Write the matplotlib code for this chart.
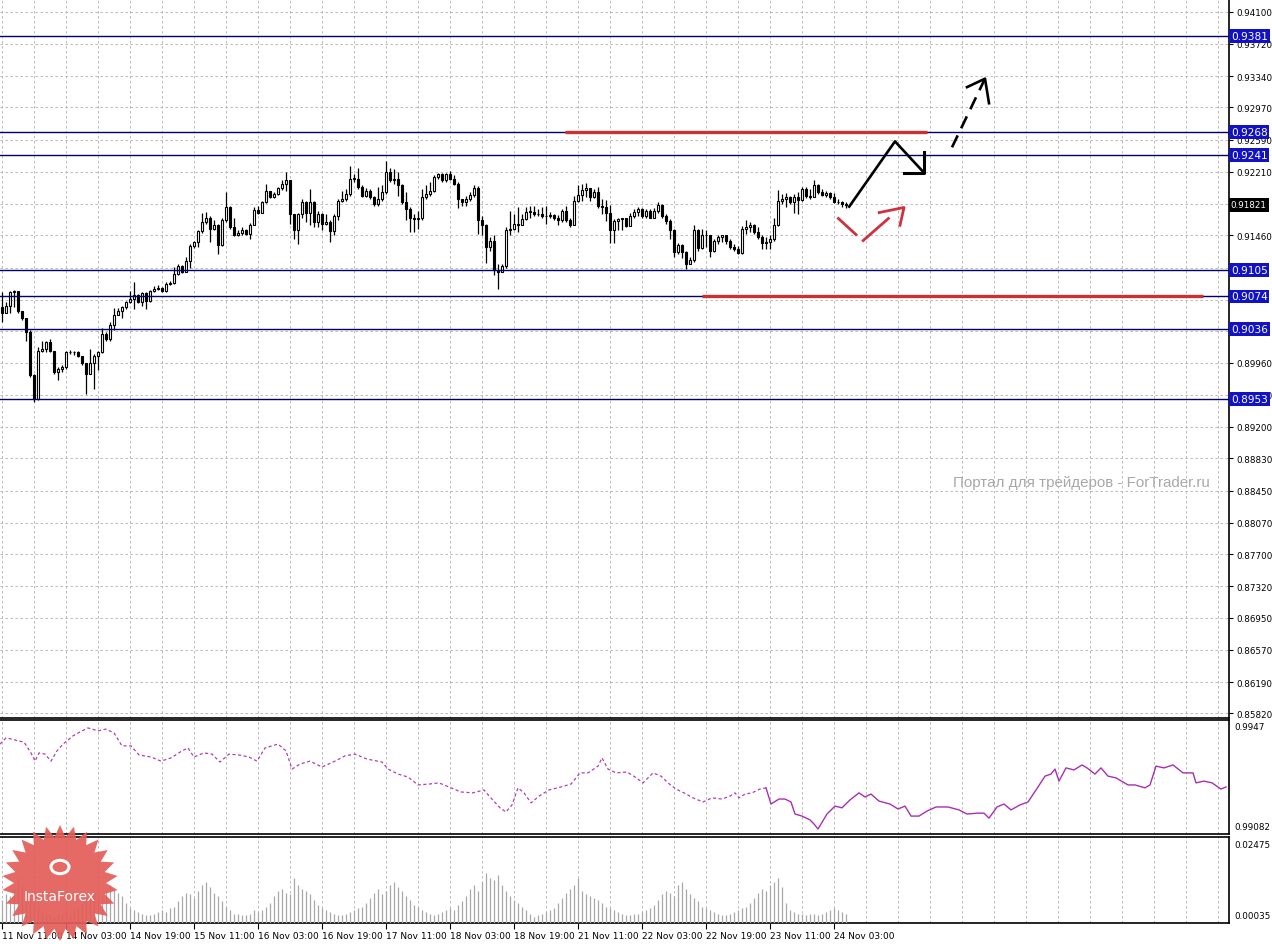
import numpy as np
import matplotlib
matplotlib.use("Agg")
import matplotlib.pyplot as plt
from matplotlib.patches import Polygon, Circle

# ---- H1 candles (bar 0 = 11 Nov 11:00), open = previous close ----
first_open = 0.9061
closes = [
    0.9054, 0.9063, 0.9079, 0.9080, 0.9057, 0.9048, 0.9032, 0.8981, 0.8953, 0.9010,
    0.9012, 0.9020, 0.9010, 0.8985, 0.8989, 0.8991, 0.9008, 0.9009, 0.9008, 0.9004,
    0.8995, 0.8983, 0.8995, 0.9004, 0.9008, 0.9030, 0.9024, 0.9040, 0.9052, 0.9057,
    0.9061, 0.9068, 0.9071, 0.9076, 0.9067, 0.9078, 0.9069, 0.9080, 0.9083, 0.9084,
    0.9080, 0.9089, 0.9090, 0.9101, 0.9110, 0.9103, 0.9116, 0.9133, 0.9138, 0.9151,
    0.9162, 0.9166, 0.9154, 0.9158, 0.9135, 0.9164, 0.9180, 0.9156, 0.9146, 0.9149,
    0.9152, 0.9148, 0.9158, 0.9176, 0.9173, 0.9185, 0.9198, 0.9191, 0.9195, 0.9202,
    0.9207, 0.9211, 0.9171, 0.9152, 0.9171, 0.9185, 0.9173, 0.9185, 0.9162, 0.9171,
    0.9160, 0.9162, 0.9151, 0.9169, 0.9187, 0.9189, 0.9195, 0.9213, 0.9213, 0.9203,
    0.9193, 0.9199, 0.9191, 0.9183, 0.9189, 0.9197, 0.9221, 0.9211, 0.9213, 0.9205,
    0.9185, 0.9177, 0.9167, 0.9165, 0.9167, 0.9191, 0.9195, 0.9199, 0.9215, 0.9219,
    0.9211, 0.9219, 0.9213, 0.9207, 0.9189, 0.9186, 0.9189, 0.9194, 0.9202, 0.9164,
    0.9158, 0.9132, 0.9140, 0.9105, 0.9103, 0.9110, 0.9152, 0.9154, 0.9160, 0.9158,
    0.9165, 0.9174, 0.9174, 0.9171, 0.9171, 0.9169, 0.9169, 0.9170, 0.9166, 0.9164,
    0.9175, 0.9164, 0.9158, 0.9187, 0.9194, 0.9200, 0.9202, 0.9191, 0.9197, 0.9181,
    0.9180, 0.9173, 0.9153, 0.9163, 0.9165, 0.9166, 0.9157, 0.9169, 0.9174, 0.9177,
    0.9169, 0.9175, 0.9167, 0.9175, 0.9182, 0.9169, 0.9163, 0.9152, 0.9126, 0.9135,
    0.9126, 0.9112, 0.9117, 0.9152, 0.9131, 0.9146, 0.9146, 0.9128, 0.9139, 0.9144,
    0.9146, 0.9139, 0.9132, 0.9130, 0.9125, 0.9154, 0.9156, 0.9158, 0.9150, 0.9144,
    0.9137, 0.9138, 0.9142, 0.9158, 0.9187, 0.9189, 0.9191, 0.9185, 0.9191, 0.9188,
    0.9201, 0.9193, 0.9191, 0.9205, 0.9197, 0.9194, 0.9196, 0.9191, 0.9185, 0.9186,
    0.9183, 0.9182,
]
highs = [
    0.9079, 0.9067, 0.9081, 0.9082, 0.9081, 0.9057, 0.9048, 0.9034, 0.8982, 0.9014,
    0.9022, 0.9022, 0.9024, 0.9010, 0.8991, 0.8993, 0.9010, 0.9011, 0.9010, 0.9010,
    0.9004, 0.8995, 0.9012, 0.9006, 0.9010, 0.9037, 0.9032, 0.9044, 0.9060, 0.9060,
    0.9063, 0.9069, 0.9080, 0.9091, 0.9077, 0.9079, 0.9079, 0.9082, 0.9086, 0.9087,
    0.9085, 0.9091, 0.9092, 0.9109, 0.9112, 0.9111, 0.9120, 0.9136, 0.9140, 0.9153,
    0.9173, 0.9174, 0.9169, 0.9164, 0.9159, 0.9166, 0.9197, 0.9181, 0.9167, 0.9152,
    0.9156, 0.9154, 0.9161, 0.9179, 0.9181, 0.9187, 0.9207, 0.9199, 0.9197, 0.9203,
    0.9211, 0.9221, 0.9201, 0.9171, 0.9173, 0.9189, 0.9187, 0.9201, 0.9187, 0.9175,
    0.9173, 0.9171, 0.9164, 0.9171, 0.9189, 0.9199, 0.9201, 0.9228, 0.9219, 0.9225,
    0.9205, 0.9202, 0.9201, 0.9193, 0.9203, 0.9205, 0.9234, 0.9226, 0.9224, 0.9221,
    0.9207, 0.9197, 0.9179, 0.9171, 0.9175, 0.9201, 0.9205, 0.9209, 0.9217, 0.9220,
    0.9220, 0.9220, 0.9222, 0.9217, 0.9209, 0.9189, 0.9193, 0.9197, 0.9205, 0.9204,
    0.9169, 0.9160, 0.9144, 0.9146, 0.9112, 0.9112, 0.9156, 0.9175, 0.9171, 0.9179,
    0.9171, 0.9179, 0.9181, 0.9181, 0.9177, 0.9179, 0.9181, 0.9174, 0.9171, 0.9170,
    0.9177, 0.9181, 0.9167, 0.9193, 0.9205, 0.9207, 0.9208, 0.9201, 0.9201, 0.9203,
    0.9189, 0.9188, 0.9182, 0.9165, 0.9167, 0.9167, 0.9167, 0.9173, 0.9177, 0.9179,
    0.9178, 0.9177, 0.9177, 0.9178, 0.9185, 0.9183, 0.9171, 0.9165, 0.9154, 0.9137,
    0.9136, 0.9128, 0.9121, 0.9158, 0.9154, 0.9154, 0.9152, 0.9147, 0.9142, 0.9146,
    0.9147, 0.9144, 0.9142, 0.9136, 0.9134, 0.9157, 0.9164, 0.9162, 0.9160, 0.9156,
    0.9146, 0.9144, 0.9147, 0.9167, 0.9200, 0.9195, 0.9196, 0.9193, 0.9195, 0.9197,
    0.9203, 0.9203, 0.9201, 0.9211, 0.9207, 0.9201, 0.9198, 0.9197, 0.9196, 0.9189,
    0.9187, 0.9185,
]
lows = [
    0.9044, 0.9054, 0.9055, 0.9061, 0.9055, 0.9046, 0.9022, 0.8979, 0.8950, 0.8952,
    0.9008, 0.9009, 0.9009, 0.8983, 0.8975, 0.8985, 0.8989, 0.9006, 0.9005, 0.9002,
    0.8993, 0.8959, 0.8982, 0.8965, 0.8987, 0.9007, 0.9022, 0.9022, 0.9035, 0.9052,
    0.9048, 0.9059, 0.9066, 0.9059, 0.9066, 0.9063, 0.9059, 0.9068, 0.9079, 0.9082,
    0.9079, 0.9079, 0.9088, 0.9089, 0.9099, 0.9102, 0.9103, 0.9107, 0.9131, 0.9132,
    0.9149, 0.9160, 0.9138, 0.9152, 0.9124, 0.9133, 0.9162, 0.9154, 0.9145, 0.9145,
    0.9147, 0.9147, 0.9142, 0.9158, 0.9171, 0.9172, 0.9184, 0.9190, 0.9190, 0.9194,
    0.9200, 0.9199, 0.9160, 0.9142, 0.9136, 0.9167, 0.9162, 0.9158, 0.9156, 0.9156,
    0.9152, 0.9158, 0.9138, 0.9146, 0.9164, 0.9185, 0.9187, 0.9193, 0.9209, 0.9201,
    0.9191, 0.9191, 0.9189, 0.9181, 0.9181, 0.9187, 0.9195, 0.9209, 0.9207, 0.9193,
    0.9183, 0.9164, 0.9150, 0.9150, 0.9154, 0.9164, 0.9189, 0.9193, 0.9197, 0.9213,
    0.9209, 0.9209, 0.9212, 0.9205, 0.9178, 0.9181, 0.9181, 0.9187, 0.9191, 0.9148,
    0.9146, 0.9114, 0.9128, 0.9099, 0.9083, 0.9103, 0.9108, 0.9146, 0.9152, 0.9150,
    0.9158, 0.9164, 0.9167, 0.9169, 0.9169, 0.9167, 0.9160, 0.9167, 0.9164, 0.9158,
    0.9162, 0.9162, 0.9156, 0.9158, 0.9185, 0.9187, 0.9191, 0.9187, 0.9190, 0.9178,
    0.9171, 0.9163, 0.9137, 0.9137, 0.9152, 0.9152, 0.9156, 0.9157, 0.9167, 0.9169,
    0.9166, 0.9166, 0.9166, 0.9166, 0.9173, 0.9167, 0.9160, 0.9142, 0.9120, 0.9124,
    0.9119, 0.9106, 0.9112, 0.9115, 0.9128, 0.9130, 0.9132, 0.9120, 0.9127, 0.9136,
    0.9138, 0.9136, 0.9130, 0.9128, 0.9124, 0.9124, 0.9148, 0.9150, 0.9148, 0.9142,
    0.9130, 0.9130, 0.9130, 0.9140, 0.9157, 0.9183, 0.9179, 0.9183, 0.9173, 0.9171,
    0.9187, 0.9190, 0.9189, 0.9196, 0.9195, 0.9192, 0.9191, 0.9189, 0.9184, 0.9183,
    0.9180, 0.9178,
]

# ---- lower histogram panel ----
volumes = [
    0.0070, 0.0085, 0.0080, 0.0100, 0.0130, 0.0110, 0.0095, 0.0075, 0.0060, 0.0050, 0.0035, 0.0030, 0.0025,
    0.0020, 0.0030, 0.0028, 0.0035, 0.0030, 0.0040, 0.0045, 0.0060, 0.0075, 0.0080, 0.0085, 0.0070,
    0.0080, 0.0095, 0.0110, 0.0100, 0.0090, 0.0080, 0.0060, 0.0045, 0.0040, 0.0035, 0.0030, 0.0025,
    0.0025, 0.0030, 0.0035, 0.0040, 0.0035, 0.0045, 0.0050, 0.0065, 0.0080, 0.0090, 0.0085, 0.0075,
    0.0095, 0.0110, 0.0120, 0.0105, 0.0090, 0.0080, 0.0065, 0.0050, 0.0040, 0.0030, 0.0030, 0.0025,
    0.0025, 0.0030, 0.0040, 0.0035, 0.0040, 0.0050, 0.0060, 0.0080, 0.0095, 0.0100, 0.0090, 0.0085,
    0.0130, 0.0110, 0.0100, 0.0095, 0.0085, 0.0070, 0.0055, 0.0045, 0.0040, 0.0035, 0.0030, 0.0025,
    0.0025, 0.0030, 0.0035, 0.0040, 0.0045, 0.0050, 0.0060, 0.0075, 0.0090, 0.0100, 0.0085, 0.0095,
    0.0110, 0.0120, 0.0105, 0.0095, 0.0080, 0.0070, 0.0055, 0.0050, 0.0040, 0.0035, 0.0030, 0.0025,
    0.0030, 0.0035, 0.0040, 0.0045, 0.0040, 0.0055, 0.0065, 0.0080, 0.0100, 0.0110, 0.0095, 0.0120,
    0.0145, 0.0130, 0.0125, 0.0140, 0.0110, 0.0095, 0.0080, 0.0070, 0.0060, 0.0050, 0.0040, 0.0030,
    0.0020, 0.0025, 0.0030, 0.0035, 0.0040, 0.0045, 0.0060, 0.0075, 0.0090, 0.0100, 0.0110, 0.0130,
    0.0095, 0.0085, 0.0080, 0.0075, 0.0070, 0.0060, 0.0050, 0.0045, 0.0040, 0.0035, 0.0030, 0.0025,
    0.0025, 0.0030, 0.0030, 0.0035, 0.0040, 0.0045, 0.0055, 0.0070, 0.0085, 0.0095, 0.0090, 0.0080,
    0.0110, 0.0120, 0.0100, 0.0085, 0.0075, 0.0065, 0.0050, 0.0045, 0.0040, 0.0035, 0.0030, 0.0025,
    0.0025, 0.0030, 0.0035, 0.0040, 0.0045, 0.0050, 0.0060, 0.0075, 0.0090, 0.0100, 0.0095, 0.0110,
    0.0120, 0.0130, 0.0105, 0.0060, 0.0040, 0.0035, 0.0030, 0.0028, 0.0025, 0.0030, 0.0028, 0.0025,
    0.0030, 0.0035, 0.0040, 0.0045, 0.0040, 0.0035, 0.0030,
]

# ---- middle indicator line (bar position, value) ----
ind_bars = [
    -0.5, 1, 2.5, 4, 5.5, 7.25, 8.25, 9.25, 10.75, 12.25, 13.75, 15.25, 17.75, 20, 21.5, 24, 26, 28,
    30, 32.25, 34.25, 37.25, 39.75, 42.25, 45, 46.5, 48, 50.5, 52.5, 54.5, 56.75, 59.25, 61.75, 63.75,
    65.75, 69, 71, 72.5, 74.5, 77, 80, 83.25, 85.75, 88.25, 91.25, 95, 96.5, 99, 101.5, 104, 106.75,
    109.25, 111.75, 114.75, 117.75, 120.5, 122, 124.5, 126, 127.5, 129, 130.5, 132.25, 134.25, 136.75,
    139.75, 142.25, 144.5, 146.5, 149, 150, 151.5, 153.5, 156.25, 158.25, 160.25, 162.75, 164.75,
    166.5, 168.5, 170.5, 172.75, 175.25, 177.5, 180, 182, 183.25, 184.25, 185.75, 187.5, 189.5, 191,
    192.25, 194.25, 195.75, 197.25, 198.25, 200, 202, 203, 204, 206.25, 208.25, 210, 212, 214.25,
    215.75, 217.25, 219.25, 222, 224, 225.75, 227.25, 229.25, 231.25, 233.5, 236.5, 239.25, 241.25,
    244, 245.5, 246.75, 248.75, 250.5, 252.25, 254.5, 256.5, 259, 260.75, 262.25, 263.25, 264.25,
    266, 268, 270, 271.25, 273.25, 274.75, 276.5, 278.5, 281.5, 283.25, 285.75, 287, 288.5, 290.5,
    292.75, 295.25, 297.75, 298.5, 300.5, 302.5, 304.75, 306,
]
ind_values = [
    0.99388, 0.99409, 0.99405, 0.99399, 0.99395, 0.99358, 0.99330, 0.99358, 0.99354, 0.99330, 0.99365,
    0.99388, 0.99416, 0.99433, 0.99443, 0.99433, 0.99439, 0.99426, 0.99382, 0.99382, 0.99351, 0.99344,
    0.99330, 0.99341, 0.99365, 0.99375, 0.99344, 0.99358, 0.99354, 0.99327, 0.99354, 0.99351, 0.99344,
    0.99330, 0.99375, 0.99388, 0.99365, 0.99303, 0.99320, 0.99330, 0.99310, 0.99330, 0.99348, 0.99354,
    0.99337, 0.99327, 0.99303, 0.99286, 0.99276, 0.99249, 0.99252, 0.99256, 0.99242, 0.99225, 0.99222,
    0.99232, 0.99208, 0.99171, 0.99157, 0.99181, 0.99239, 0.99222, 0.99188, 0.99211, 0.99232, 0.99242,
    0.99252, 0.99290, 0.99290, 0.99313, 0.99341, 0.99303, 0.99290, 0.99293, 0.99276, 0.99256, 0.99290,
    0.99279, 0.99256, 0.99235, 0.99222, 0.99205, 0.99191, 0.99205, 0.99201, 0.99211, 0.99222, 0.99205,
    0.99218, 0.99222, 0.99235, 0.99239, 0.99184, 0.99201, 0.99201, 0.99191, 0.99150, 0.99143, 0.99130,
    0.99116, 0.99099, 0.99150, 0.99177, 0.99171, 0.99198, 0.99222, 0.99208, 0.99218, 0.99194, 0.99184,
    0.99167, 0.99177, 0.99143, 0.99143, 0.99160, 0.99174, 0.99174, 0.99164, 0.99150, 0.99153, 0.99153,
    0.99136, 0.99174, 0.99184, 0.99164, 0.99181, 0.99191, 0.99242, 0.99279, 0.99286, 0.99303, 0.99262,
    0.99307, 0.99300, 0.99317, 0.99307, 0.99286, 0.99307, 0.99279, 0.99273, 0.99249, 0.99249, 0.99239,
    0.99249, 0.99313, 0.99307, 0.99317, 0.99290, 0.99290, 0.99256, 0.99262, 0.99256, 0.99235, 0.99242,
]
ind_dash_end = 191

# ---- axis labels and levels ----
price_ticks = [0.94100, 0.93720, 0.93340, 0.92970, 0.92590, 0.92210, 0.91830, 0.91460,
               0.91080, 0.90700, 0.90330, 0.89960, 0.89580, 0.89200, 0.88830, 0.88450,
               0.88070, 0.87700, 0.87320, 0.86950, 0.86570, 0.86190, 0.85820]
# scale labels fully covered by the level / bid boxes in the terminal
hidden_ticks = [0.91830, 0.91080, 0.90700, 0.90330]
time_labels = ["11 Nov 11:00", "14 Nov 03:00", "14 Nov 19:00", "15 Nov 11:00", "16 Nov 03:00",
               "16 Nov 19:00", "17 Nov 11:00", "18 Nov 03:00", "18 Nov 19:00", "21 Nov 11:00",
               "22 Nov 03:00", "22 Nov 19:00", "23 Nov 11:00", "24 Nov 03:00"]
levels = [0.9381, 0.9268, 0.9241, 0.9105, 0.9074, 0.9036, 0.8953]
level_labels = ["0.9381", "0.9268", "0.9241", "0.9105", "0.9074", "0.9036", "0.8953"]
bid = 0.91821
red_levels = [(0.9268, 140.75, 231.25), (0.9074, 175.0, 300.25)]

# drawn forecast arrows (bar, price)
black_path = [(211.8, 0.9180), (223.25, 0.9257), (230.5, 0.9220)]
black_head = [(225.5, 0.9220), (230.5, 0.9220), (230.5, 0.9244)]
dashed_path = [(237.5, 0.9250), (245.75, 0.9331)]
dashed_head = [(241.25, 0.9321), (245.75, 0.9331), (246.75, 0.9302)]
red_path1 = [(209.1, 0.9166), (213.5, 0.9147)]
red_path2 = [(215.3, 0.9140), (221.6, 0.9166)]
red_head = [(219.3, 0.9173), (225.5, 0.9179), (224.5, 0.9158)]

W, H = 1272, 945
fig = plt.figure(figsize=(W / 100, H / 100), dpi=100)


def px_axes(top, bottom):
    return fig.add_axes([0, 1 - bottom / H, 1229 / W, (bottom - top) / H])


ax = px_axes(0, 719)
ax_ind = px_axes(721, 835)
ax_vol = px_axes(838, 924)

grid_color = "#b0b0b0"
grid_dash = (0, (3, 3))
vgrid = np.arange(0, 307, 8)
for a in (ax, ax_ind, ax_vol):
    a.set_xlim(-0.5, 306.75)
    for gx in vgrid:
        a.axvline(gx, color=grid_color, lw=0.6, ls=grid_dash, zorder=0)
    a.spines["left"].set_visible(False)
    for s in ("right", "bottom", "top"):
        a.spines[s].set_color("black")
        a.spines[s].set_linewidth(1.2)
ax.spines["top"].set_visible(False)

# main price panel
ax.set_ylim(0.85766, 0.9425)
ax.set_yticks(price_ticks)
ax.set_yticklabels(["" if p in hidden_ticks else f"{p:.5f}" for p in price_ticks])
ax.yaxis.tick_right()
ax.tick_params(axis="y", length=3, width=0.8, pad=2, labelsize=6.3)
ax.set_xticks([])
ax.grid(axis="y", color=grid_color, lw=0.6, ls=grid_dash, zorder=0)

o = np.array([first_open] + closes[:-1])
c = np.array(closes)
x = np.arange(len(c))
body_lo = np.minimum(o, c)
body_hi = np.maximum(o, c)
hi = np.maximum(np.array(highs), body_hi)
lo = np.minimum(np.array(lows), body_lo)
up = c >= o
ax.vlines(x, lo, hi, color="black", lw=0.9, zorder=3)
height = np.maximum(body_hi - body_lo, 0.00004)
ax.bar(x[up], height[up], bottom=body_lo[up], width=0.62, color="white",
       edgecolor="black", lw=0.8, zorder=4)
ax.bar(x[~up], height[~up], bottom=body_lo[~up], width=0.62, color="black",
       edgecolor="black", lw=0.8, zorder=4)

for lvl, lab in zip(levels, level_labels):
    ax.axhline(lvl, color="#000066", lw=1.0, zorder=5)
    ax.text(1.0015, lvl, lab, transform=ax.get_yaxis_transform(), ha="left", va="center",
            fontsize=7.6, color="white", zorder=10, clip_on=False,
            bbox=dict(boxstyle="square,pad=0.18", fc="#1212c4", ec="none"))
ax.text(1.0015, bid, f"{bid:.5f}", transform=ax.get_yaxis_transform(), ha="left", va="center",
        fontsize=6.3, color="white", zorder=10, clip_on=False,
        bbox=dict(boxstyle="square,pad=0.25", fc="black", ec="none"))

for lvl, x0, x1 in red_levels:
    ax.plot([x0, x1], [lvl, lvl], color="#cc3030", lw=2.4, solid_capstyle="butt", zorder=6)

# forecast arrows
bx, by = zip(*black_path)
ax.plot(bx, by, color="black", lw=1.9, zorder=7)
bx, by = zip(*black_head)
ax.plot(bx, by, color="black", lw=2.2, zorder=7)
bx, by = zip(*dashed_path)
ax.plot(bx, by, color="black", lw=1.9, ls=(0, (5, 3)), zorder=7)
bx, by = zip(*dashed_head)
ax.plot(bx, by, color="black", lw=1.9, zorder=7)
for seg in (red_path1, red_path2, red_head):
    rx, ry = zip(*seg)
    ax.plot(rx, ry, color="#d03040", lw=2.0, zorder=7)

fig.text(953 / W, 1 - 483 / H, "Портал для трейдеров - ForTrader.ru", fontsize=10.9,
         family="Liberation Sans", color="#a8a8a8", ha="left", va="center")

# middle indicator panel
ax_ind.set_ylim(0.99082, 0.9947)
ax_ind.set_xticks([])
ax_ind.set_yticks([])
ib = np.array(ind_bars)
iv = np.array(ind_values)
dash = ib <= ind_dash_end
ax_ind.plot(ib[dash], iv[dash], color="#b040b0", lw=0.9, ls=(0, (2.5, 2)), zorder=3)
solid = ib >= ind_dash_end
ax_ind.plot(ib[solid], iv[solid], color="#a830b0", lw=1.0, zorder=3)
ax_ind.text(1.004, 0.98, "0.9947", transform=ax_ind.transAxes, ha="left", va="top", fontsize=6.3)
ax_ind.text(1.004, 0.03, "0.99082", transform=ax_ind.transAxes, ha="left", va="bottom", fontsize=6.3)

# bottom histogram panel
ax_vol.set_ylim(0.00035, 0.02475)
ax_vol.set_yticks([])
ax_vol.vlines(np.arange(len(volumes)), 0.00035, volumes, color="#a8a8a8", lw=0.9, zorder=3)
ax_vol.text(1.004, 0.97, "0.02475", transform=ax_vol.transAxes, ha="left", va="top", fontsize=6.3)
ax_vol.text(1.004, 0.03, "0.00035", transform=ax_vol.transAxes, ha="left", va="bottom", fontsize=6.3)
ax_vol.set_xticks(np.arange(len(time_labels)) * 16)
ax_vol.set_xticklabels(time_labels)
ax_vol.tick_params(axis="x", length=4, width=0.8, pad=2, labelsize=6.5)
for lab in ax_vol.get_xticklabels():
    lab.set_ha("left")

# InstaForex badge
cx, cy, r_out, r_in, n = 60, 884, 58, 46, 26
ang = np.linspace(0, 2 * np.pi, 2 * n, endpoint=False)
rad = np.where(np.arange(2 * n) % 2 == 0, r_out, r_in)
pts = np.column_stack([(cx + rad * np.sin(ang)) / W, 1 - (cy - rad * np.cos(ang)) / H])
fig.patches.append(Polygon(pts, closed=True, transform=fig.transFigure, fc="#e35d58",
                           ec="none", alpha=0.92, zorder=20))
fig.patches.append(Circle((cx / W, 1 - 868 / H), 9 / W, transform=fig.transFigure, fc="none",
                          ec="white", lw=2.2, zorder=21))
fig.text(cx / W, 1 - 897 / H, "InstaForex", color="white", fontsize=10, ha="center",
         va="center", zorder=22)

fig.savefig("out.png", dpi=100)
